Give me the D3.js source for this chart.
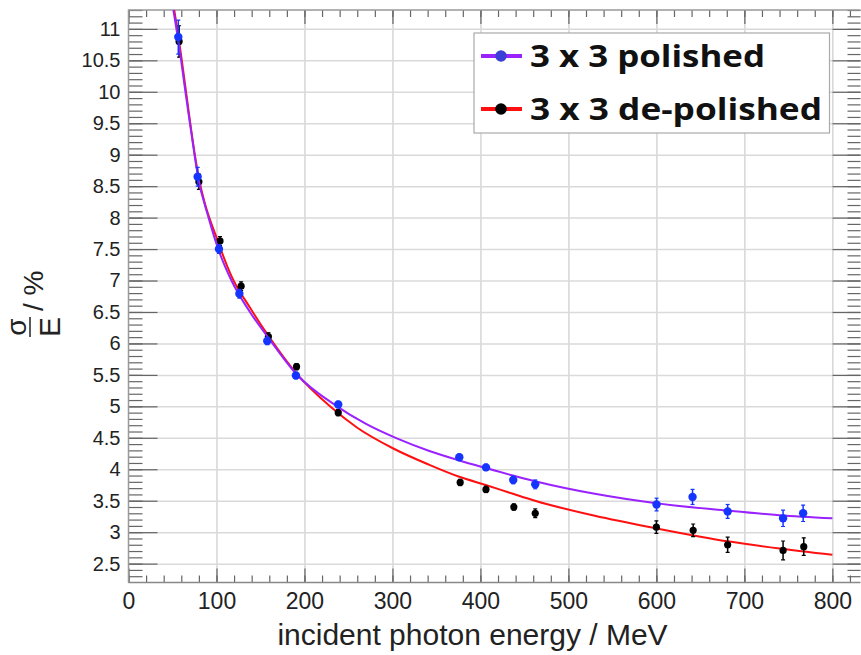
<!DOCTYPE html>
<html><head><meta charset="utf-8">
<script src="https://cdn.jsdelivr.net/npm/d3@7"></script>
<style>
html,body{margin:0;padding:0;background:#fff;}
svg{display:block;}
.tick text{font-family:"Liberation Sans",Arial,sans-serif;fill:#222;}
</style></head>
<body><svg id="c" width="861" height="655"></svg>
<script>
// ---- data ----
const polishedE   = [56.6, 78.6, 102.8, 126, 157.7, 190.3, 238.4, 376, 406.3, 437.3, 462.3, 600.2, 641.1, 681, 744, 766.8];
const polishedRes = [10.87, 8.65, 7.50, 6.79, 6.04, 5.49, 5.03, 4.19, 4.03, 3.83, 3.76, 3.44, 3.56, 3.33, 3.22, 3.30];
const polishedErr = [0.27, 0.15, 0.07, 0.07, 0.06, 0.05, 0.05, 0.05, 0.05, 0.06, 0.07, 0.10, 0.12, 0.11, 0.13, 0.13];

const depolE   = [57.5, 80, 104, 128, 159, 191, 238.4, 377, 406.3, 438, 462.3, 600, 641.8, 681, 744, 767.5];
const depolRes = [10.80, 8.57, 7.63, 6.91, 6.11, 5.63, 4.90, 3.79, 3.68, 3.40, 3.30, 3.08, 3.03, 2.80, 2.71, 2.77];
const depolErr = [0.25, 0.12, 0.07, 0.07, 0.06, 0.05, 0.05, 0.05, 0.05, 0.05, 0.07, 0.10, 0.10, 0.12, 0.15, 0.14];

// fitted curves
const polishedFitE = [51, 56, 66, 75, 79, 91, 102, 117, 138, 160, 191, 237, 270, 305, 342, 376, 406, 437, 462, 530, 600, 683, 740, 800];
const polishedFitY = [11.3, 10.87, 9.87, 9.0, 8.65, 8.0, 7.5, 7.0, 6.5, 6.07, 5.51, 5.0, 4.72, 4.49, 4.29, 4.14, 4.02, 3.90, 3.81, 3.61, 3.46, 3.34, 3.27, 3.22];
const depolFitE = [52, 57, 79, 103, 117, 138, 160, 191, 229, 260, 301, 342, 376, 406, 437, 462, 530, 600, 683, 740, 800];
const depolFitY = [11.3, 10.85, 8.7, 7.57, 7.07, 6.57, 6.1, 5.52, 5.0, 4.66, 4.33, 4.07, 3.88, 3.75, 3.61, 3.50, 3.26, 3.06, 2.85, 2.74, 2.64];

const xMajor = [0, 100, 200, 300, 400, 500, 600, 700, 800];
const xMinor = d3.range(0, 832, 20);
const yMajor = [2.5, 3, 3.5, 4, 4.5, 5, 5.5, 6, 6.5, 7, 7.5, 8, 8.5, 9, 9.5, 10, 10.5, 11];
const yMinor = d3.range(23, 114, 1).map(v => v / 10);

const legendLabels = ["3 x 3 polished", "3 x 3 de-polished"];
const xTitle = "incident photon energy / MeV";

// ---- layout ----
const L = 128.5, R = 860.5, T = 10, B = 582.5;
const svg = d3.select("#c");
const x = d3.scaleLinear().domain([0, 832]).range([L, R]);
const y = d3.scaleLinear().domain([2.2, 11.3]).range([B, T]);

const colBlue = "#1535ff", colPurple = "#9a22ff", colRed = "#ff1010", colBlack = "#000";

// grid
const grid = svg.append("g");
grid.append("g").attr("transform", `translate(0,${B})`)
  .call(d3.axisBottom(x).tickValues(xMajor.slice(1)).tickSize(-(B - T)).tickFormat(""))
  .call(g => g.select(".domain").remove())
  .selectAll("line").attr("stroke", "#d6d6d6").attr("stroke-width", 1.5);
grid.append("g").attr("transform", `translate(${L},0)`)
  .call(d3.axisLeft(y).tickValues(yMajor).tickSize(-(R - L)).tickFormat(""))
  .call(g => g.select(".domain").remove())
  .selectAll("line").attr("stroke", "#dadada").attr("stroke-width", 1.5);

// axes / ticks
const tickCol = "#666";
function styleAx(g){ g.select(".domain").remove(); g.selectAll("line").attr("stroke", tickCol).attr("stroke-width", 1.2); }
// bottom
svg.append("g").attr("transform", `translate(0,${B})`)
  .call(d3.axisBottom(x).tickValues(xMinor).tickSize(-7).tickFormat("")).call(styleAx);
svg.append("g").attr("transform", `translate(0,${B})`)
  .call(d3.axisBottom(x).tickValues(xMajor).tickSize(-14).tickPadding(24).tickFormat(d3.format("d")))
  .call(styleAx)
  .call(g => g.selectAll("text").attr("font-size", 23).attr("dy", "0").attr("y", 26));
// top
svg.append("g").attr("transform", `translate(0,${T})`)
  .call(d3.axisTop(x).tickValues(xMinor).tickSize(-7).tickFormat("")).call(styleAx);
svg.append("g").attr("transform", `translate(0,${T})`)
  .call(d3.axisTop(x).tickValues(xMajor).tickSize(-14).tickFormat("")).call(styleAx);
// left
svg.append("g").attr("transform", `translate(${L},0)`)
  .call(d3.axisLeft(y).tickValues(yMinor).tickSize(-14).tickFormat("")).call(styleAx);
svg.append("g").attr("transform", `translate(${L},0)`)
  .call(d3.axisLeft(y).tickValues(yMajor).tickSize(-29).tickPadding(8).tickFormat(d3.format("~g")))
  .call(styleAx)
  .call(g => g.selectAll("text").attr("font-size", 20).attr("x", -8));
// right
svg.append("g").attr("transform", `translate(${R},0)`)
  .call(d3.axisRight(y).tickValues(yMinor).tickSize(-13).tickFormat("")).call(styleAx);
svg.append("g").attr("transform", `translate(${R},0)`)
  .call(d3.axisRight(y).tickValues(yMajor).tickSize(-28).tickFormat("")).call(styleAx);

// frame
svg.append("path").attr("d", `M${L},${B}V${T}H${R}`).attr("fill", "none").attr("stroke", "#999").attr("stroke-width", 1.5);
svg.append("path").attr("d", `M${L},${B}H${R}`).attr("fill", "none").attr("stroke", "#888").attr("stroke-width", 1.5);

// clip
svg.append("clipPath").attr("id", "clip").append("rect").attr("x", L).attr("y", T).attr("width", R - L).attr("height", B - T);
const plot = svg.append("g").attr("clip-path", "url(#clip)");

const line = d3.line().x(d => x(d[0])).y(d => y(d[1])).curve(d3.curveMonotoneX);

function drawSeries(E, V, Err, col, r){
  const pts = E.map((e, i) => ({e, v: V[i], err: Err[i]}));
  const g = plot.append("g");
  g.selectAll("line.eb").data(pts).join("line").attr("class", "eb")
    .attr("x1", d => x(d.e)).attr("x2", d => x(d.e))
    .attr("y1", d => y(d.v - d.err)).attr("y2", d => y(d.v + d.err))
    .attr("stroke", col).attr("stroke-width", 1.5);
  ["m", "p"].forEach(s => {
    g.selectAll("line.cap" + s).data(pts).join("line").attr("class", "cap" + s)
      .attr("x1", d => x(d.e) - 2).attr("x2", d => x(d.e) + 2)
      .attr("y1", d => y(s === "m" ? d.v - d.err : d.v + d.err)).attr("y2", d => y(s === "m" ? d.v - d.err : d.v + d.err))
      .attr("stroke", col).attr("stroke-width", 1.2);
  });
  g.selectAll("circle").data(pts).join("circle")
    .attr("cx", d => x(d.e)).attr("cy", d => y(d.v)).attr("r", r).attr("fill", col);
}

plot.append("path").datum(depolFitE.map((e, i) => [e, depolFitY[i]]))
  .attr("d", line).attr("fill", "none").attr("stroke", colRed).attr("stroke-width", 2);
drawSeries(depolE, depolRes, depolErr, colBlack, 3.6);
plot.append("path").datum(polishedFitE.map((e, i) => [e, polishedFitY[i]]))
  .attr("d", line).attr("fill", "none").attr("stroke", colPurple).attr("stroke-width", 2);
drawSeries(polishedE, polishedRes, polishedErr, colBlue, 4.2);

// legend
const lg = svg.append("g");
lg.append("rect").attr("x", 474).attr("y", 33).attr("width", 355.5).attr("height", 100)
  .attr("fill", "#fff").attr("stroke", "#aaa").attr("stroke-width", 1.2);
const legItems = [
  {label: legendLabels[0], line: colPurple, dot: "#3b3fd6", cy: 56, w: 235},
  {label: legendLabels[1], line: colRed, dot: colBlack, cy: 109, w: 292}
];
legItems.forEach(it => {
  lg.append("line").attr("x1", 481).attr("x2", 522).attr("y1", it.cy).attr("y2", it.cy)
    .attr("stroke", it.line).attr("stroke-width", 4);
  lg.append("circle").attr("cx", 501).attr("cy", it.cy).attr("r", 5.8).attr("fill", it.dot);
  lg.append("text").attr("x", 530).attr("y", it.cy + 11)
    .attr("font-family", "'Open Sans', Lato, sans-serif").attr("font-weight", 700)
    .attr("font-size", 30).attr("fill", "#111")
    .attr("textLength", it.w).attr("lengthAdjust", "spacingAndGlyphs").text(it.label);
});

// x title
svg.append("text").attr("x", 472.5).attr("y", 645).attr("text-anchor", "middle")
  .attr("font-family", "'Liberation Sans', Arial, sans-serif").attr("font-size", 30).attr("fill", "#222")
  .text(xTitle);

// y title: sigma over E, then " / %"
const yt = svg.append("g").attr("transform", "translate(30,327) rotate(-90)")
  .attr("font-family", "'Liberation Sans', Arial, sans-serif").attr("fill", "#222");
yt.append("text").attr("x", 0).attr("y", -4).attr("text-anchor", "middle").attr("font-size", 28).text("σ");
yt.append("line").attr("x1", -10).attr("x2", 10).attr("y1", 0).attr("y2", 0).attr("stroke", "#222").attr("stroke-width", 1.5);
yt.append("text").attr("x", 0).attr("y", 30).attr("text-anchor", "middle").attr("font-size", 30).text("E");
yt.append("text").attr("x", 16).attr("y", 13).attr("font-size", 28).text("/ %");
</script></body></html>
